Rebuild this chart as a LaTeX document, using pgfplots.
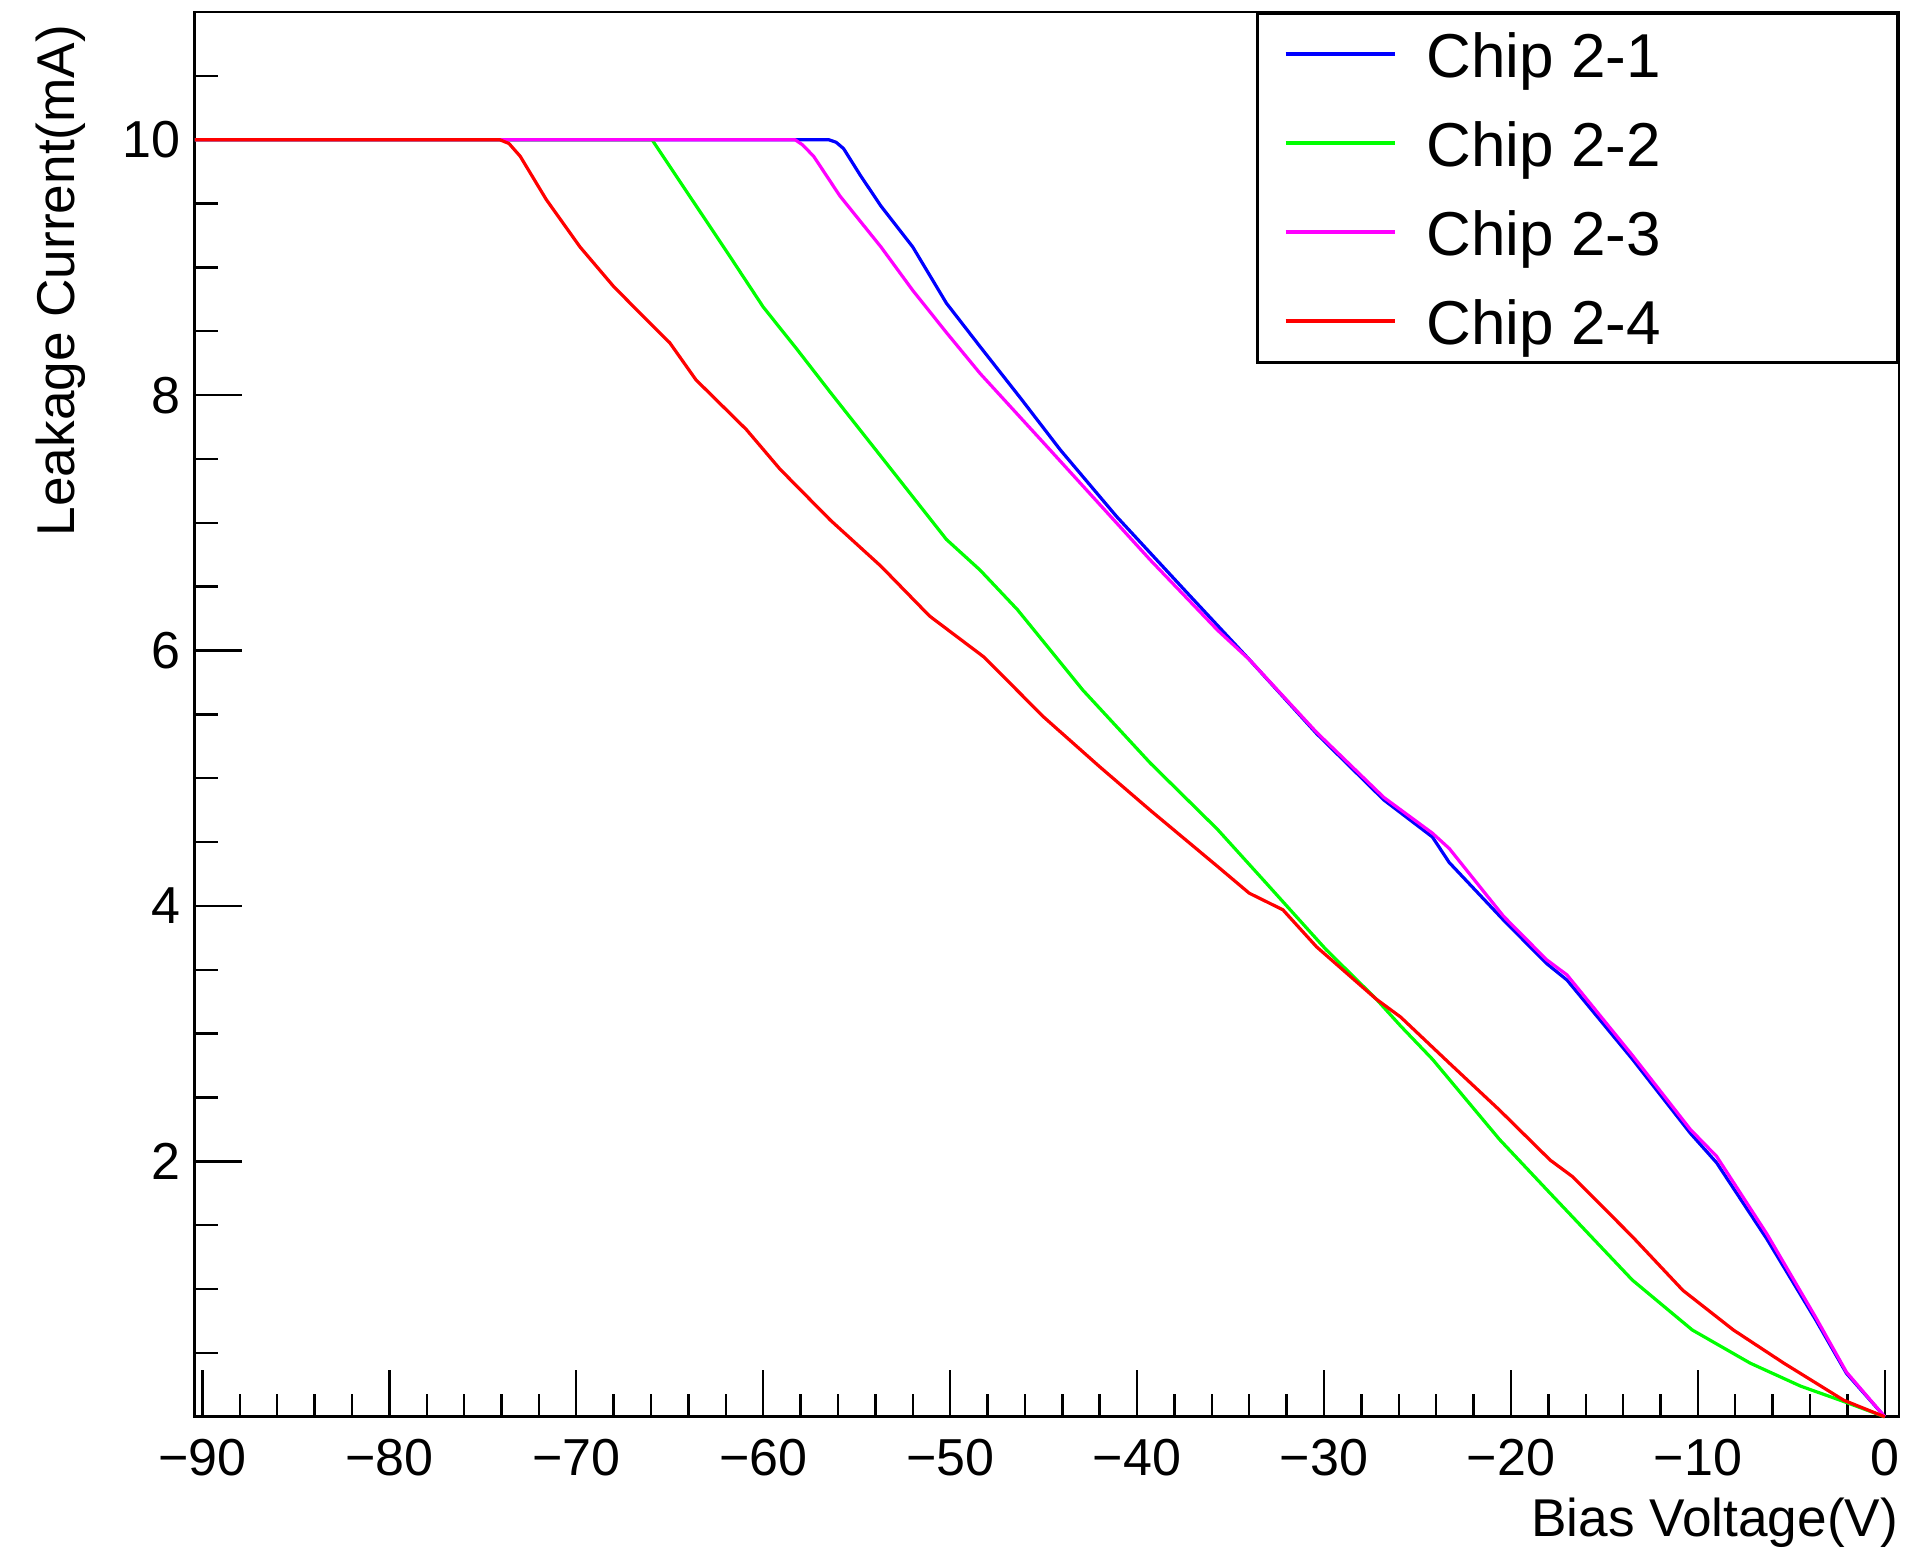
\documentclass[border=0pt]{standalone}
\usepackage{fontspec}
\setmainfont{Liberation Sans}
\usepackage{pgfplots}
\pgfplotsset{compat=1.18}
\definecolor{rblue}{RGB}{0,0,255}
\definecolor{rgreen}{RGB}{0,255,0}
\definecolor{rmagenta}{RGB}{255,0,255}
\definecolor{rred}{RGB}{255,0,0}
\begin{document}
\begin{tikzpicture}
\path[use as bounding box] (-48.6pt,-34.05pt) rectangle (428.15pt,354.2pt);
\begin{axis}[
  at={(0pt,0pt)}, anchor=south west,
  scale only axis, width=426.1pt, height=351.2pt,
  xmin=-90.43, xmax=0.75, ymin=0, ymax=11,
  clip=false,
  axis line style={line width=0.65pt},
  tick style={line width=0.6pt, black},
  tick align=inside, tick pos=left,
  major tick length=11.8pt, minor tick length=5.8pt,
  xtick={-90,-80,-70,-60,-50,-40,-30,-20,-10,0},
  xticklabels={−90,−80,−70,−60,−50,−40,−30,−20,−10,0},
  minor xtick={-90,-88,...,0},
  ytick={2,4,6,8,10},
  yticklabels={2,4,6,8,10},
  minor ytick={0.5,1,...,10.5},
  xticklabel style={inner sep=0pt, yshift=-5.5pt, font=\fontsize{13pt}{15pt}\selectfont},
  yticklabel style={inner sep=0pt, xshift=-3.2pt, font=\fontsize{13pt}{15pt}\selectfont},
  xlabel={Bias Voltage(V)},
  ylabel={Leakage Current(mA)},
  every axis x label/.style={at={(rel axis cs:1,0)}, anchor=base east, yshift=-30pt, inner sep=0pt, font=\fontsize{13.3pt}{15pt}\selectfont},
  every axis y label/.style={at={(rel axis cs:0,1)}, xshift=-30pt, yshift=-3pt, rotate=90, anchor=base east, inner sep=0pt, font=\fontsize{13.3pt}{15pt}\selectfont},
  legend style={at={(1,1)}, anchor=north east, draw=black, fill=white, line width=0.65pt,
    inner xsep=6.6pt, inner ysep=4.5pt, row sep=10.75pt, column sep=7.4pt,
    font=\fontsize{15.5pt}{18pt}\selectfont,
    nodes={inner sep=0pt, text height=11.5pt, text depth=0pt}},
  legend cell align=left,
  legend image code/.code={\draw[#1, line width=0.9pt] (0pt,0pt) -- (27.4pt,0pt);},
  every axis plot/.append style={line width=0.8pt, line join=round},
]
% Chip 2-1
\addplot[rblue, mark=none] coordinates {
(-90.4,10) (-56.5,10) (-56.1,9.98) (-55.7,9.93) (-54.8,9.72) (-53.7,9.48) (-52.0,9.16) (-50.2,8.72) (-48.4,8.38)
(-46.2,7.97) (-44.1,7.57) (-41.1,7.05) (-37.5,6.48) (-34.0,5.93) (-30.4,5.35) (-26.8,4.83) (-24.2,4.54)
(-23.3,4.34) (-20.4,3.89) (-18.1,3.55) (-17.0,3.42) (-13.5,2.80) (-10.4,2.22) (-9.0,1.99)
(-6.3,1.39) (-3.7,0.76) (-2.05,0.34) (0,0)};
\addlegendentry{\makebox[111.1pt][l]{Chip 2-1}}
% Chip 2-2
\addplot[rgreen, mark=none] coordinates {
(-90.4,10) (-65.95,10) (-64.4,9.66) (-61.8,9.09) (-60.0,8.69) (-58.2,8.36) (-56.4,8.02)
(-53.7,7.52) (-50.2,6.87) (-48.4,6.63) (-46.4,6.32) (-42.9,5.69) (-39.3,5.12) (-35.7,4.60)
(-33.1,4.18) (-29.9,3.66) (-27.2,3.27) (-25.9,3.06) (-24.2,2.80) (-20.6,2.17) (-17.9,1.75)
(-13.5,1.07) (-10.3,0.68) (-7.2,0.42) (-4.5,0.24) (-2.2,0.12) (0,0)};
\addlegendentry{\makebox[111.1pt][l]{Chip 2-2}}
% Chip 2-3
\addplot[rmagenta, mark=none] coordinates {
(-90.4,10) (-58.3,10) (-57.9,9.96) (-57.3,9.87) (-55.9,9.56) (-53.7,9.16) (-52.0,8.82) (-50.2,8.49)
(-48.4,8.17) (-44.65,7.57) (-39.3,6.71) (-35.7,6.16) (-34.0,5.93) (-30.4,5.36) (-26.8,4.85)
(-24.2,4.57) (-23.3,4.45) (-20.4,3.92) (-18.1,3.58) (-17.0,3.46) (-13.5,2.83) (-10.4,2.25)
(-9.0,2.04) (-6.3,1.43) (-3.7,0.78) (-2.05,0.35) (0,0)};
\addlegendentry{\makebox[111.1pt][l]{Chip 2-3}}
% Chip 2-4
\addplot[rred, mark=none] coordinates {
(-90.4,10) (-74.1,10) (-73.6,9.97) (-73.0,9.87) (-72.3,9.70) (-71.6,9.53) (-69.8,9.16) (-68.0,8.85) (-65.9,8.54)
(-65.0,8.41) (-63.6,8.12) (-60.9,7.73) (-59.1,7.42) (-56.4,7.02) (-53.7,6.66) (-51.1,6.27)
(-48.2,5.95) (-45.0,5.48) (-42.0,5.09) (-39.3,4.75) (-35.7,4.31) (-34.0,4.10) (-32.2,3.97)
(-30.4,3.68) (-27.2,3.27) (-25.9,3.13) (-23.3,2.77) (-20.6,2.40) (-17.9,2.01) (-16.7,1.88)
(-13.5,1.41) (-10.8,0.99) (-8.1,0.68) (-5.4,0.42) (-2.2,0.13) (0,0)};
\addlegendentry{\makebox[111.1pt][l]{Chip 2-4}}
\end{axis}
\end{tikzpicture}
\end{document}
